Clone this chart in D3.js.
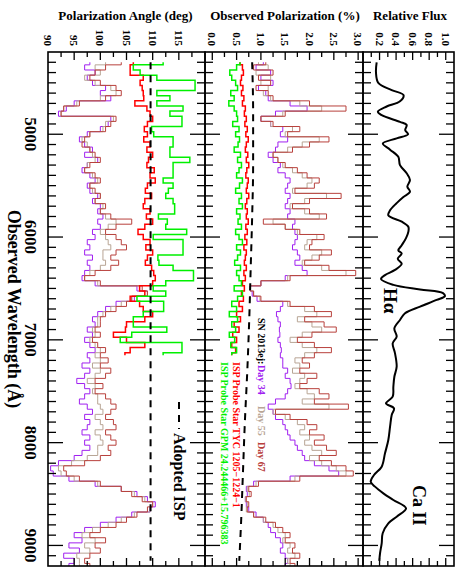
<!DOCTYPE html>
<html><head><meta charset="utf-8">
<script src="https://cdn.jsdelivr.net/npm/d3@7"></script>
<style>body{margin:0;background:#fff}</style>
</head><body>
<svg id="c" width="471" height="578"></svg>
<script>
// ---------------- data ----------------
const snWave = [4300,4350,4400,4450,4500,4550,4600,4650,4700,4750,
4800,4850,4900,4950,5000,5050,5100,5150,5200,5250,
5300,5350,5400,5450,5500,5550,5600,5650,5700,5750,
5800,5850,5900,5950,6000,6050,6100,6150,6200,6250,
6300,6350,6400,6450,6500,6550,6600,6650,6700,6750,
6800,6850,6900,6950,7000,7050,7100,7150,7200,7250,
7300,7350,7400,7450,7500,7550,7600,7650,7700,7750,
7800,7850,7900,7950,8000,8050,8100,8150,8200,8250,
8300,8350,8400,8450,8500,8550,8600,8650,8700,8750,
8800,8850,8900,8950,9000,9050,9100,9150,9200];

const polDay34 = [1.05,0.90,1.20,1.00,1.25,0.95,1.10,1.15,1.60,1.95,
1.30,1.00,1.20,1.45,1.40,1.55,1.35,1.30,1.15,1.25,
1.40,1.35,1.50,1.60,1.55,1.50,1.60,1.55,1.50,1.60,
1.55,1.70,1.65,1.70,1.75,1.70,1.65,1.75,1.80,1.70,
1.85,1.95,1.50,1.00,0.78,0.82,0.92,1.45,1.40,1.32,
1.35,1.40,1.38,1.39,1.35,1.40,1.42,1.40,1.45,1.45,
1.55,1.50,1.60,1.62,1.55,1.50,1.30,1.15,1.25,1.30,
1.45,1.50,1.55,1.60,1.70,1.75,1.85,1.90,2.10,2.40,
2.60,1.60,0.85,0.70,0.72,0.68,0.70,0.75,0.90,1.05,
1.15,1.20,1.30,1.40,1.45,1.40,1.50,1.55,1.50];

const polDay55 = [0.95,1.15,0.90,1.20,1.00,1.15,1.05,1.20,1.80,2.25,
1.45,1.00,1.20,1.65,1.50,2.20,1.85,1.55,1.25,1.35,
1.45,1.65,1.85,2.05,1.95,1.65,2.35,1.90,1.60,1.90,
2.20,1.25,1.50,1.75,2.15,1.95,1.90,2.25,2.05,1.85,
2.25,2.75,1.55,1.00,0.78,0.85,0.98,1.55,1.90,2.15,
1.75,2.05,2.25,1.85,1.60,1.85,2.15,1.90,1.70,1.80,
1.65,1.90,1.80,1.70,1.95,2.10,1.85,2.40,1.25,1.50,
1.75,1.90,1.80,2.00,1.90,2.05,2.25,2.00,2.25,2.55,
2.75,1.70,0.90,0.72,0.76,0.68,0.72,0.70,0.85,1.05,
1.25,1.35,1.50,1.45,1.60,1.55,1.70,1.55,1.60];

const polDay67 = [1.10,0.85,1.25,0.95,1.20,0.90,1.15,1.25,2.00,2.75,
1.50,1.00,1.25,1.80,1.55,2.40,2.00,1.65,1.25,1.35,
1.50,1.75,1.95,2.20,2.10,1.70,2.65,2.00,1.65,2.00,
2.35,1.05,1.50,1.80,2.30,2.05,2.00,2.45,2.20,1.90,
2.40,2.95,1.60,1.00,0.78,0.85,1.00,1.60,2.10,2.45,
1.90,2.30,2.55,2.05,1.75,2.10,2.45,2.10,1.85,2.00,
1.80,2.15,1.95,1.80,2.20,2.40,2.10,2.80,1.30,1.60,
1.95,2.15,2.00,2.30,2.10,2.35,2.55,2.20,2.45,2.75,
2.90,1.80,0.95,0.75,0.80,0.70,0.75,0.72,0.85,1.10,
1.30,1.45,1.60,1.50,1.70,1.65,1.80,1.60,1.70];

const angDay34 = [98,97,99,97.5,98.5,101,100,102,95,93.5,
92,102,101.5,100,97.5,96,97,98.5,97,99.5,
97.5,96.5,98,99,97.5,98,99.5,98.5,100,99.5,
100.5,99.5,100,98.5,99,97.5,98,97,98.5,97.5,
98,97,96.5,99,107,109,106.5,103,101,99.5,
98.5,99,97.5,98.5,97,98,99,97.5,98,96.5,
98,97,95.5,97,98,97,96,97.5,98.5,97,
98,97.5,96.5,98,97,98,96.5,95,92,90.5,
91,94,99,104,107,109,110.5,109.5,106,103,
100,97,95,96.5,94,96,93,95,94];

const angDay55 = [101,99,100,97,99,102,103,100,95.5,93,
92.5,102.5,101,100.5,98,96.5,97.5,98,98.5,99,
97.5,97,98.5,99.5,98,98.5,100,99,100.5,100,
101,103,101.5,100,101,101.5,102,100.5,100.5,101,
100,98,97,99.5,107.5,109,106,104,102,100.5,
99.5,99.5,98.5,99,98,99,100,99,100,98.5,
100,99,97.5,99,98.5,99.5,99.5,100,100.5,99,
100,100.5,99,100,100.5,99.5,99.5,97.5,94.5,92,
92.5,95,99.5,104,106.5,108.5,110,109.5,106.5,104,
101.5,98.5,96.5,99,97,98,95.5,96,96];

const angDay67 = [104,101,99,98,100,103,104,101,96,93,
92.5,103,102,101,98,97,96.5,98,99,100,
98,97,99,100,98,99,100,99,101,100,
102,106,103,101,103,104,105,103,102,103.5,
102,99,97,100,108,109,106,105,103,101,
100,100,99,100,98.5,99.5,101,100,101.5,100,
102,101,99,100.5,99,101,102,103,102,101,
102.5,103,101,102,103,101.5,102,100,97,93,
93.5,96,100,104,106,108,110,109,107,105,
103,100,98,101,99,100,98,97,98];

const starWave = [4300,4350,4400,4450,4500,4550,4600,4650,4700,4750,
4800,4850,4900,4950,5000,5050,5100,5150,5200,5250,
5300,5350,5400,5450,5500,5550,5600,5650,5700,5750,
5800,5850,5900,5950,6000,6050,6100,6150,6200,6250,
6300,6350,6400,6450,6500,6550,6600,6650,6700,6750,
6800,6850,6900,6950,7000,7050,7100,7150];

const tycPol = [0.57,0.62,0.64,0.60,0.58,0.63,0.60,0.65,0.62,0.68,
0.66,0.70,0.67,0.72,0.69,0.74,0.70,0.68,0.73,0.70,
0.75,0.71,0.69,0.74,0.72,0.70,0.75,0.71,0.68,0.72,
0.70,0.74,0.69,0.72,0.67,0.71,0.65,0.70,0.68,0.66,
0.70,0.65,0.68,0.62,0.66,0.60,0.64,0.55,0.62,0.50,
0.58,0.45,0.55,0.42,0.50,0.40,0.48,0.40];

const gpmPol = [0.57,0.50,0.36,0.40,0.48,0.52,0.38,0.45,0.34,0.45,
0.50,0.52,0.42,0.55,0.48,0.56,0.53,0.45,0.58,0.52,
0.60,0.55,0.50,0.62,0.56,0.48,0.60,0.55,0.62,0.50,
0.57,0.53,0.60,0.48,0.55,0.62,0.50,0.58,0.52,0.46,
0.58,0.50,0.55,0.60,0.45,0.62,0.52,0.40,0.50,0.35,
0.52,0.40,0.48,0.35,0.46,0.38,0.50,0.40];

const tycAng = [106.3,105.7,105.7,108.2,107.6,108.0,108.2,108.3,106.6,108.9,
109.5,110.0,109.0,108.4,109.0,108.3,109.5,108.9,110.0,109.2,
108.9,110.3,109.5,110.5,109.0,108.6,109.8,108.5,108.2,109.5,
108.8,110.0,108.5,107.2,108.2,109.5,108.7,110.0,109.0,108.6,
109.8,110.2,110.5,110.0,107.5,108.5,105.7,107.5,108.2,110.0,
108.5,105.0,104.8,102.5,105.0,108.5,105.7,104.7];

const gpmAng = [112.0,106.3,107.6,110.8,118.1,118.1,110.8,113.3,110.8,115.8,
113.3,115.6,115.6,109.8,110.2,113.9,113.9,113.3,113.3,117.1,
113.9,113.9,113.9,112.0,113.9,113.0,112.5,113.9,114.2,114.2,
111.1,112.8,112.5,116.5,110.1,115.8,115.8,115.8,111.0,111.2,
113.9,117.8,117.8,112.5,110.1,112.5,107.0,112.1,112.1,108.2,
106.3,106.3,112.7,106.0,103.8,115.6,115.6,112.0];

const fluxWave = [4300,4400,4500,4570,4620,4680,4730,4780,4815,4880,
4910,4960,5000,5040,5090,5150,5220,5300,5380,5445,
5510,5560,5610,5670,5740,5790,5850,5900,5950,6010,
6080,6130,6160,6210,6260,6320,6370,6410,6465,6510,
6545,6575,6612,6677,6742,6807,6888,6969,7034,7131,
7261,7359,7456,7553,7618,7666,7731,7845,7974,8104,
8234,8315,8380,8428,8493,8558,8639,8720,8785,8882,
8979,9076,9150];
const fluxVal = [0.165,0.157,0.185,0.347,0.49,0.447,0.286,0.18,0.226,0.447,
0.528,0.51,0.545,0.407,0.24,0.327,0.427,0.447,0.528,0.568,
0.536,0.568,0.488,0.407,0.327,0.306,0.468,0.548,0.548,0.52,
0.468,0.427,0.468,0.42,0.468,0.387,0.266,0.218,0.367,0.69,
0.967,0.99,0.89,0.69,0.508,0.447,0.379,0.407,0.359,0.387,
0.407,0.379,0.367,0.359,0.278,0.375,0.347,0.327,0.306,0.266,
0.226,0.133,0.093,0.145,0.246,0.367,0.52,0.407,0.306,0.238,
0.226,0.206,0.197];

const ispWave = [4300,4800,5300,5800,6300,6800,7300,7800,8300,8800,9150];
const ispPol  = [0.82,0.84,0.84,0.82,0.79,0.76,0.72,0.67,0.63,0.59,0.555];
const ispAng  = [109.6,109.6,109.6,109.6,109.6,109.6,109.6,109.6,109.6,109.6,109.6];

const waveTicks = [5000,6000,7000,8000,9000];
const fluxTicks = [0.2,0.4,0.6,0.8,1.0];
const polTicks  = [0.0,0.5,1.0,1.5,2.0,2.5,3.0];
const angTicks  = [90,95,100,105,110,115];

const C34 = '#a020f0', C55 = '#b8a595', C67 = '#b8403c', CTYC = '#ff0000', CGPM = '#00f000';

// ---------------- drawing ----------------
const FONT = '"Liberation Serif","Times New Roman",Times,serif';
const svg = d3.select('#c');
const W = 514;
const x = d3.scaleLinear().domain([4200,9200]).range([0,W]);
const yFlux = d3.scaleLinear().domain([0,1.1]).range([91,0]);
const yPol  = d3.scaleLinear().domain([-0.15,3.1]).range([249,91]);
const yAng  = d3.scaleLinear().domain([90,120]).range([406,249]);

// landscape plot, rotated clockwise onto the page
const g = svg.append('g').attr('transform','translate(454,52) rotate(90)');

const panels = [
  {id:'flux', y:yFlux, top:0, bot:91, ticks:fluxTicks, minor:0.1, fmt:d3.format('.1f')},
  {id:'pol',  y:yPol,  top:91, bot:249, ticks:polTicks, minor:0.25, fmt:d3.format('.1f')},
  {id:'ang',  y:yAng,  top:249, bot:406, ticks:angTicks, minor:2.5, fmt:d3.format('d')}
];

const defs = svg.append('defs');
panels.forEach(p=>{
  defs.append('clipPath').attr('id','clip-'+p.id).append('rect')
    .attr('x',0).attr('y',p.top).attr('width',W).attr('height',p.bot-p.top);
});

function series(panel, wave, vals, color, sw, curve){
  const pts = wave.map((w,i)=>[w, vals[i]]);
  g.append('path').datum(pts)
    .attr('clip-path','url(#clip-'+panel.id+')')
    .attr('fill','none').attr('stroke',color).attr('stroke-width',sw)
    .attr('stroke-linejoin','miter')
    .attr('d', d3.line().x(d=>x(d[0])).y(d=>panel.y(d[1])).curve(curve));
}

const [pF, pP, pA] = panels;
// angle panel
series(pA, snWave, angDay34, C34, 1, d3.curveStep);
series(pA, snWave, angDay55, C55, 1, d3.curveStep);
series(pA, snWave, angDay67, C67, 1, d3.curveStep);
series(pA, starWave, tycAng, CTYC, 1.5, d3.curveStep);
series(pA, starWave, gpmAng, CGPM, 1.5, d3.curveStep);
// polarization panel
series(pP, snWave, polDay34, C34, 1, d3.curveStep);
series(pP, snWave, polDay55, C55, 1, d3.curveStep);
series(pP, snWave, polDay67, C67, 1, d3.curveStep);
series(pP, starWave, tycPol, CTYC, 1.5, d3.curveStep);
series(pP, starWave, gpmPol, CGPM, 1.5, d3.curveStep);
// ISP dashed lines
[[pA, ispAng],[pP, ispPol]].forEach(([p, vals])=>{
  g.append('path').datum(ispWave.map((w,i)=>[w, vals[i]]))
    .attr('fill','none').attr('stroke','#000').attr('stroke-width',2)
    .attr('stroke-dasharray','7,6')
    .attr('d', d3.line().x(d=>x(d[0])).y(d=>p.y(d[1])).curve(d3.curveMonotoneX));
});
// flux
g.append('path').datum(fluxWave.map((w,i)=>[w, fluxVal[i]]))
  .attr('clip-path','url(#clip-flux)')
  .attr('fill','none').attr('stroke','#000').attr('stroke-width',2)
  .attr('d', d3.line().x(d=>x(d[0])).y(d=>yFlux(d[1])).curve(d3.curveCatmullRom.alpha(0.5)));

// frames and ticks
const minorWave = d3.range(4300, 9200, 100);
panels.forEach(p=>{
  g.append('rect').attr('x',0).attr('y',p.top).attr('width',W).attr('height',p.bot-p.top)
    .attr('fill','none').attr('stroke','#000').attr('stroke-width',1.6);
  const tk = g.append('g').attr('stroke','#000').attr('stroke-width',1.3);
  minorWave.forEach(w=>{
    const len = waveTicks.includes(w) ? 15 : 8;
    tk.append('line').attr('x1',x(w)).attr('x2',x(w)).attr('y1',p.top).attr('y2',p.top+len);
    tk.append('line').attr('x1',x(w)).attr('x2',x(w)).attr('y1',p.bot).attr('y2',p.bot-len);
  });
  const [d0,d1] = p.y.domain();
  const start = Math.ceil(d0/p.minor - 1e-9)*p.minor;
  d3.range(start, d1+1e-9, p.minor).forEach(v=>{
    const yy = p.y(v);
    if (yy <= p.top+0.5 || yy >= p.bot-0.5) return;
    const major = p.ticks.some(t=>Math.abs(t-v)<1e-6);
    const len = major ? 8 : 5;
    tk.append('line').attr('x1',0).attr('x2',len).attr('y1',yy).attr('y2',yy);
    tk.append('line').attr('x1',W).attr('x2',W-len).attr('y1',yy).attr('y2',yy);
  });
  g.append('g').selectAll('text').data(p.ticks).join('text')
    .attr('x',-6).attr('y',d=>p.y(d)).attr('dy','0.35em')
    .attr('text-anchor','end').attr('font-family',FONT).attr('font-weight','bold')
    .attr('font-size',11).text(d=>p.fmt(d));
});
// wavelength labels
g.append('g').selectAll('text').data(waveTicks).join('text')
  .attr('x',d=>x(d)).attr('y',429).attr('text-anchor','middle')
  .attr('font-family',FONT).attr('font-weight','bold').attr('font-size',17).text(d=>d);
g.append('text').attr('x',W/2).attr('y',446).attr('text-anchor','middle')
  .attr('font-family',FONT).attr('font-weight','bold').attr('font-size',18)
  .text('Observed Wavelength (\u00C5)');

// in-panel annotations
const ann = (u,v,txt,color,size)=>g.append('text').attr('x',u).attr('y',v)
  .attr('font-family',FONT).attr('font-weight','bold').attr('font-size',size)
  .attr('fill',color).text(txt);
ann(236,70,'H\u03B1','#000',19);
ann(433,41,'Ca II','#000',18);
ann(266,196,'SN 2013ej:','#000',10);
ann(313,196,'Day 34',C34,10);
ann(354,196,'Day 55',C55,10);
ann(390,196,'Day 67',C67,10);
ann(310,221,'ISP Probe Star TYC 1205\u22121224\u22121',CTYC,10);
ann(310,233,'ISP Probe Star GPM 24.244466+15.796383',CGPM,10);
g.append('line').attr('x1',350).attr('x2',377).attr('y1',275).attr('y2',275)
  .attr('stroke','#000').attr('stroke-width',2).attr('stroke-dasharray','7,6');
ann(381,280,'Adopted ISP','#000',16);

// panel titles (horizontal on the page)
const titles = [['Polarization Angle (deg)',125.5],['Observed Polarization (%)',285],['Relative Flux',410]];
svg.append('g').selectAll('text').data(titles).join('text')
  .attr('x',d=>d[1]).attr('y',19.5).attr('text-anchor','middle')
  .attr('font-family',FONT).attr('font-weight','bold').attr('font-size',13).text(d=>d[0]);
</script>
</body></html>
